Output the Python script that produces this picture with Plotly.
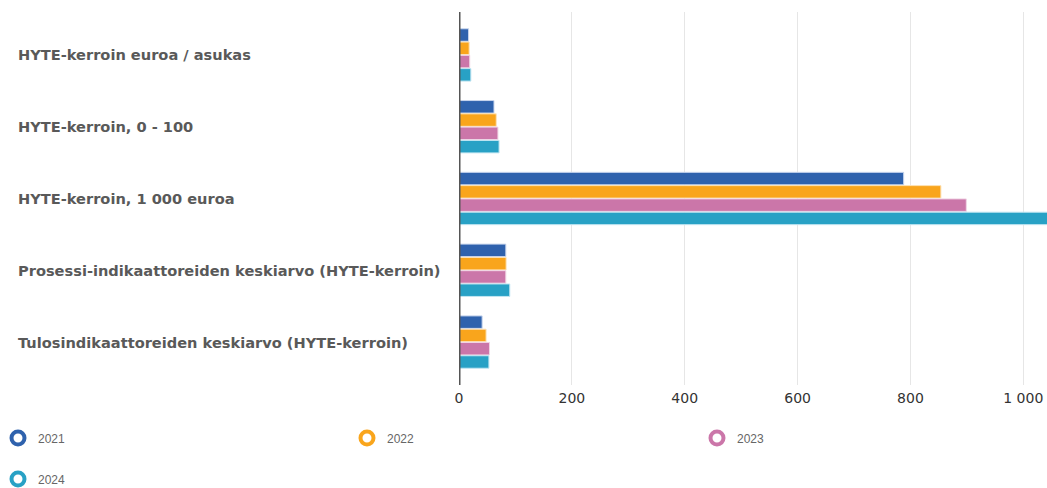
import plotly.graph_objects as go

categories = [
    "HYTE-kerroin euroa / asukas",
    "HYTE-kerroin, 0 - 100",
    "HYTE-kerroin, 1 000 euroa",
    "Prosessi-indikaattoreiden keskiarvo (HYTE-kerroin)",
    "Tulosindikaattoreiden keskiarvo (HYTE-kerroin)",
]
years = ["2021", "2022", "2023", "2024"]
v2021 = [17, 62, 788, 83, 41]
v2022 = [18, 66, 854, 83.5, 48]
v2023 = [19, 69, 899, 83, 54]
v2024 = [21, 71, 1050, 90, 53]
series = [v2021, v2022, v2023, v2024]
colors = ["#2f62ad", "#f9a51c", "#cb76a9", "#28a1c5"]
borders = ["#c9d6ee", "#fde3b8", "#f0d5e5", "#c3e6f2"]
tick_vals = [0, 200, 400, 600, 800, 1000]
tick_text = ["0", "200", "400", "600", "800", "1 000"]

W, H = 1047, 488
L, R, T, B = 459, 0, 12, 103
pw = W - L - R
ph = H - T - B

# legend item positions (pixels, top-left of figure): circle centre x, row centre y
legend_pos = [(17, 438), (366, 438), (716, 438), (17, 479)]
legend_names = ["legend", "legend2", "legend3", "legend4"]

fig = go.Figure()
for name, vals, c, bc in zip(years, series, colors, borders):
    fig.add_trace(go.Bar(
        y=categories, x=vals, orientation="h", name=name,
        marker=dict(color=c, line=dict(color=bc, width=1)),
        showlegend=False, hoverinfo="x+name",
    ))

for name, c, lg in zip(years, colors, legend_names):
    fig.add_trace(go.Scatter(
        x=[None], y=[None], mode="markers", name=name,
        marker=dict(symbol="circle-open", size=13, color=c, line=dict(color=c, width=4)),
        legend=lg,
    ))

annotations = []
for cat in categories:
    annotations.append(dict(
        x=(16 - L) / pw, xref="paper", y=cat, yref="y",
        text=cat, showarrow=False, xanchor="left", yanchor="middle",
        font=dict(family="DejaVu Sans", size=14.6, color="#595959", weight="bold"),
    ))

legend_layouts = {}
for lg, (cx, cy) in zip(legend_names, legend_pos):
    legend_layouts[lg] = dict(
        orientation="h", x=(cx - 19 - L) / pw, xanchor="left",
        y=(ph - (cy - T)) / ph, yanchor="middle",
        font=dict(family="Liberation Sans Narrow, Liberation Sans", size=12, color="#666666"),
        bgcolor="rgba(0,0,0,0)",
    )

fig.update_layout(
    width=W, height=H,
    margin=dict(l=L, r=R, t=T, b=B, pad=0, autoexpand=False),
    paper_bgcolor="white", plot_bgcolor="white",
    barmode="group", bargap=0.26, bargroupgap=0.06,
    xaxis=dict(
        range=[0, 1042], tickvals=tick_vals, ticktext=tick_text,
        showgrid=True, gridcolor="#e6e6e6", gridwidth=1, zeroline=False,
        showline=False, ticks="outside", ticklen=0, tickcolor="rgba(0,0,0,0)",
        tickfont=dict(family="DejaVu Sans", size=14, color="#333333"),
        fixedrange=True, automargin=False,
    ),
    yaxis=dict(
        categoryorder="array", categoryarray=categories,
        autorange=False, range=[4.598, -0.598],
        showticklabels=False, showgrid=False, zeroline=False,
        showline=False, fixedrange=True, automargin=False,
    ),
    shapes=[dict(type="line", xref="x", yref="paper", x0=0, x1=0, y0=0, y1=1,
                 line=dict(color="#555555", width=3))],
    annotations=annotations,
    **legend_layouts,
)

fig.write_html("out.html", config={"displayModeBar": False},
               post_script="document.body.style.margin='0';document.body.style.overflow='hidden';")
